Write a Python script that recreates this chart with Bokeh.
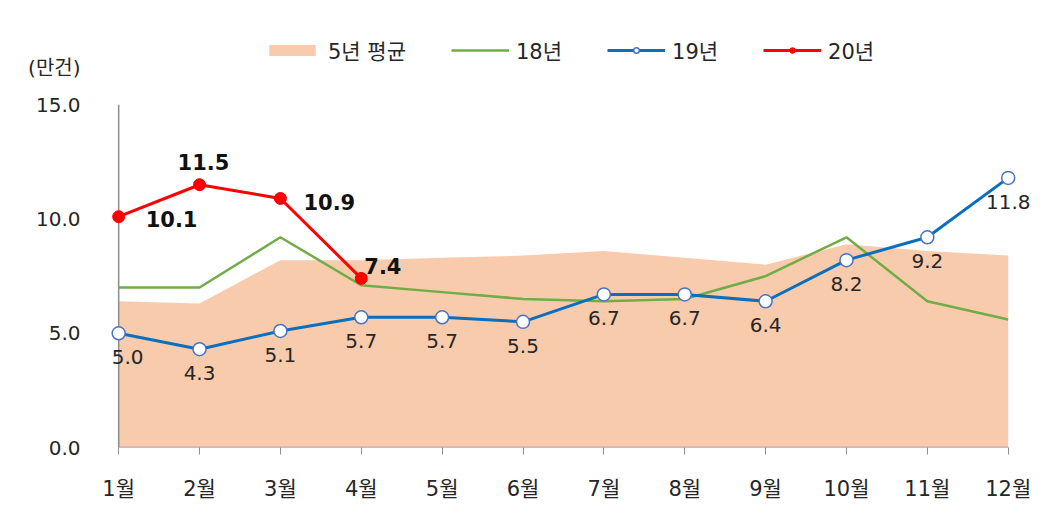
from bokeh.plotting import figure
from bokeh.models import (Range1d, FixedTicker, Legend, LegendItem,
                          ColumnDataSource, NumeralTickFormatter)
from bokeh.embed import file_html
from bokeh.resources import INLINE

# 월별 데이터 (단위: 만건)
months = ["1월", "2월", "3월", "4월", "5월", "6월", "7월", "8월", "9월", "10월", "11월", "12월"]
avg5 = [6.4, 6.3, 8.2, 8.2, 8.3, 8.4, 8.6, 8.3, 8.0, 8.9, 8.6, 8.4]
y18 = [7.0, 7.0, 9.2, 7.1, 6.8, 6.5, 6.4, 6.5, 7.5, 9.2, 6.4, 5.6]
y19 = [5.0, 4.3, 5.1, 5.7, 5.7, 5.5, 6.7, 6.7, 6.4, 8.2, 9.2, 11.8]
y20 = [10.1, 11.5, 10.9, 7.4]
y_ticks = [0, 5, 10, 15]
unit_label = "(만건)"

FONT = "DejaVu Sans, Noto Sans CJK KR"
TXT = "#262626"
UNIT_POS = 16.6  # 단위 표시 높이

x = list(range(1, len(months) + 1))

# 위쪽 범례 자리까지 그림 영역을 늘림
p = figure(width=1043, height=511, output_backend="svg", toolbar_location=None,
           x_range=Range1d(0.8, 12.35), y_range=Range1d(0, 18.25),
           min_border_left=102, min_border_right=7, min_border_top=30, min_border_bottom=64)
p.outline_line_color = None
p.xgrid.visible = False
p.ygrid.visible = False

# 5년 평균 (영역)
area = p.varea(x=x, y1=0, y2=avg5, fill_color="#F8CBAD")

# 축선
p.segment(x0=[x[0], x[0]], y0=[0, 0], x1=[x[-1], x[0]], y1=[0, y_ticks[-1]],
          line_color="#8C8C8C", line_width=1.5)

# 18년
g18 = p.line(x, y18, line_color="#70AD47", line_width=2.5)

# 19년
l19 = p.line(x, y19, line_color="#0B6FBF", line_width=3)
c19 = p.scatter(x, y19, size=13, fill_color="white", line_color="#4A72C8", line_width=1.5)
src19 = ColumnDataSource(dict(x=x, y=y19, t=[f"{v:.1f}" for v in y19],
                              dx=[9] + [0] * (len(x) - 1)))
p.text("x", "y", text="t", source=src19, x_offset="dx", text_align="center",
       text_baseline="top", y_offset=17, text_font_size="20px", text_color=TXT,
       text_font={"value": FONT})

# 20년
x20 = x[:len(y20)]
l20 = p.line(x20, y20, line_color="#FF0000", line_width=3)
c20 = p.scatter(x20, y20, size=12, fill_color="#FF0000", line_color="#FF0000")
src20 = ColumnDataSource(dict(x=x20, y=y20, t=[f"{v:.1f}" for v in y20],
                              dx=[27, -22, 23, 3], dy=[2, -23, 4, -12]))
p.text("x", "y", text="t", source=src20, x_offset="dx", y_offset="dy",
       text_align="left", text_baseline="middle", text_font_size="21px",
       text_font_style="bold", text_color="#111111", text_font={"value": FONT})

p.xaxis.ticker = FixedTicker(ticks=x)
p.xaxis.major_label_overrides = {i: m for i, m in zip(x, months)}
p.xaxis.axis_line_color = None
p.xaxis.major_tick_line_color = "#8C8C8C"
p.xaxis.major_tick_in = 0
p.xaxis.major_tick_out = 7
p.xaxis.minor_tick_line_color = None
p.xaxis.major_label_standoff = 22
p.xaxis.major_label_text_font_size = "21px"
p.xaxis.major_label_text_color = TXT
p.xaxis.major_label_text_font = FONT

p.yaxis.ticker = FixedTicker(ticks=y_ticks + [UNIT_POS])
p.yaxis.formatter = NumeralTickFormatter(format="0.0")
p.yaxis.major_label_overrides = {UNIT_POS: unit_label}
p.yaxis.axis_line_color = None
p.yaxis.major_tick_line_color = None
p.yaxis.minor_tick_line_color = None
p.yaxis.major_label_standoff = 16
p.yaxis.major_label_text_font_size = "20px"
p.yaxis.major_label_text_color = TXT
p.yaxis.major_label_text_font = FONT

legend = Legend(items=[
    LegendItem(label="5년 평균", renderers=[area]),
    LegendItem(label="18년", renderers=[g18]),
    LegendItem(label="19년", renderers=[l19, c19]),
    LegendItem(label="20년", renderers=[l20, c20]),
], orientation="horizontal", location=(161, 382), padding=0, margin=0,
    spacing=45, glyph_width=58, glyph_height=14, label_standoff=7,
    label_text_font_size="21px", label_text_color=TXT, label_text_font=FONT,
    border_line_color=None, background_fill_alpha=0)
p.add_layout(legend)

open("out.html", "w").write(file_html(p, INLINE))
